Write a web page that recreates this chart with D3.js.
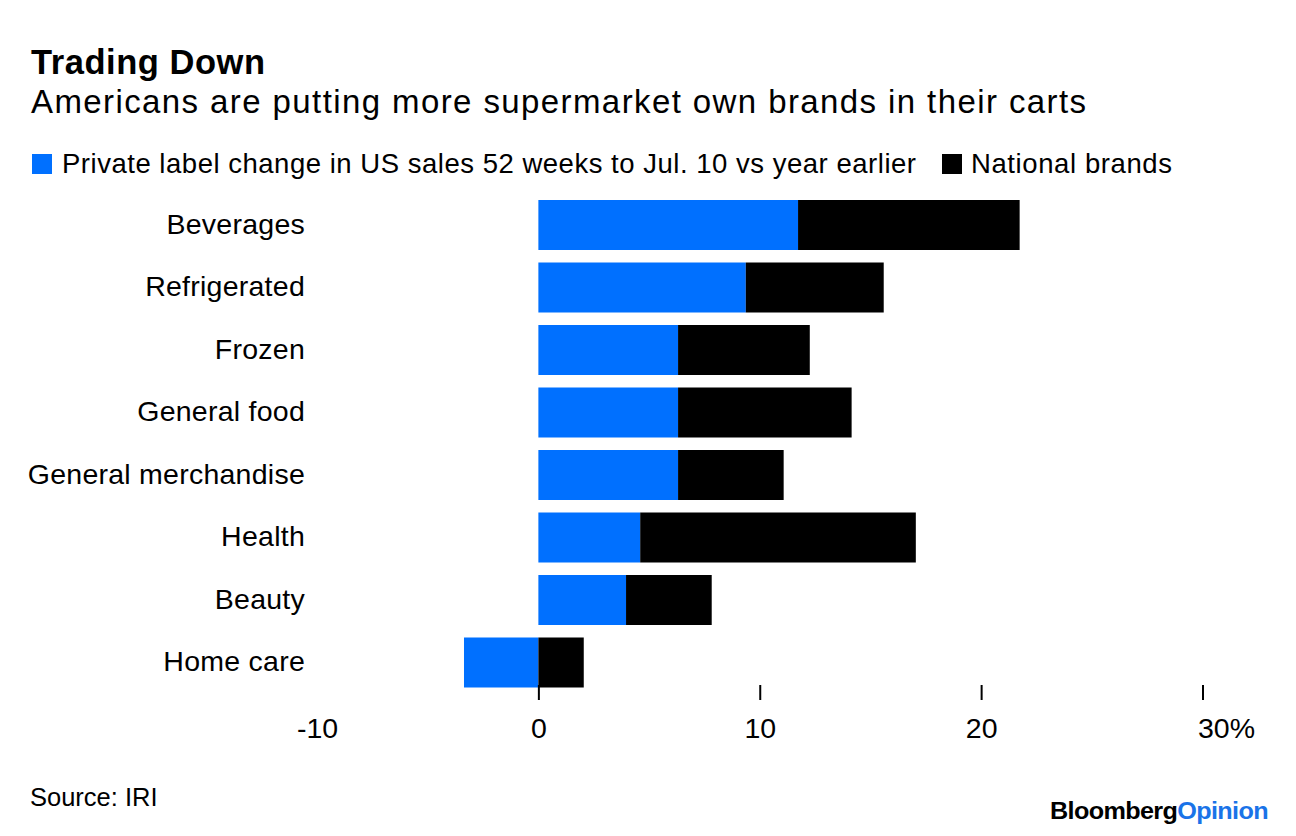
<!DOCTYPE html>
<html>
<head>
<meta charset="utf-8">
<script src="https://cdn.jsdelivr.net/npm/d3@7"></script>
<style>
  html, body { margin: 0; padding: 0; background: #fff; }
  svg { display: block; font-family: "Liberation Sans", Arial, sans-serif; }
</style>
</head>
<body>
<svg id="chart" width="1296" height="836"></svg>
<script>
const categories = ["Beverages", "Refrigerated", "Frozen", "General food", "General merchandise", "Health", "Beauty", "Home care"];
const privateLabel = [11.73, 9.37, 6.31, 6.31, 6.31, 4.60, 3.96, -3.36];
const nationalBrands = [10.01, 6.23, 5.95, 7.84, 4.77, 12.45, 3.87, 2.05];
const tickValues = [-10, 0, 10, 20, 30];
const tickLabels = ["-10", "0", "10", "20", "30%"];
const seriesNames = ["Private label change in US sales 52 weeks to Jul. 10 vs year earlier", "National brands"];
const colors = ["#0070ff", "#000000"];

const svg = d3.select("#chart");

const x = d3.scaleLinear().domain([-10, 30]).range([317, 1202.5]);
const y = d3.scaleBand().domain(categories).range([200, 687.5]).paddingInner(0.2).paddingOuter(0);

// Title, subtitle
svg.append("text").attr("x", 31).attr("y", 74).attr("font-size", 34.5).attr("font-weight", "bold")
  .attr("textLength", 234).attr("lengthAdjust", "spacing")
  .attr("fill", "#000").text("Trading Down");
svg.append("text").attr("x", 31).attr("y", 113).attr("font-size", 33)
  .attr("textLength", 1055).attr("lengthAdjust", "spacing")
  .attr("fill", "#000").text("Americans are putting more supermarket own brands in their carts");

// Legend
const lg = svg.append("g");
lg.append("rect").attr("x", 32).attr("y", 154).attr("width", 20).attr("height", 20).attr("fill", colors[0]);
lg.append("text").attr("x", 62).attr("y", 173).attr("font-size", 27.5)
  .attr("textLength", 854).attr("lengthAdjust", "spacing")
  .attr("fill", "#000").text(seriesNames[0]);
lg.append("rect").attr("x", 942).attr("y", 154).attr("width", 20).attr("height", 20).attr("fill", colors[1]);
lg.append("text").attr("x", 971).attr("y", 173).attr("font-size", 27.5)
  .attr("textLength", 201).attr("lengthAdjust", "spacing")
  .attr("fill", "#000").text(seriesNames[1]);

// Bars
const rows = categories.map((c, i) => ({ cat: c, p: privateLabel[i], n: nationalBrands[i] }));
const g = svg.append("g");
rows.forEach(d => {
  const p0 = Math.min(0, d.p), p1 = Math.max(0, d.p);
  g.append("rect").attr("x", x(p0)).attr("y", y(d.cat)).attr("width", x(p1) - x(p0))
    .attr("height", y.bandwidth()).attr("fill", colors[0]);
  const nStart = Math.max(0, d.p);
  g.append("rect").attr("x", x(nStart)).attr("y", y(d.cat)).attr("width", x(nStart + d.n) - x(nStart))
    .attr("height", y.bandwidth()).attr("fill", colors[1]);
});

// Category labels
svg.append("g").selectAll("text").data(categories).join("text")
  .attr("x", 305).attr("y", d => y(d) + y.bandwidth() / 2 + 8.5)
  .attr("text-anchor", "end").attr("font-size", 28.5).attr("letter-spacing", 0.25)
  .attr("fill", "#000").text(d => d);

// X axis
const axis = d3.axisBottom(x).tickValues(tickValues).tickSize(0).tickFormat((d, i) => tickLabels[i]);
const ax = svg.append("g").attr("transform", "translate(0,685)").call(axis);
ax.select(".domain").remove();
ax.selectAll(".tick text").attr("font-size", 28.5).attr("font-family", "Liberation Sans, Arial, sans-serif")
  .attr("fill", "#000").attr("y", 53).attr("dy", 0)
  .attr("text-anchor", (d, i) => i === tickValues.length - 1 ? "start" : "middle")
  .attr("dx", (d, i) => i === tickValues.length - 1 ? -5 : 0);
ax.selectAll(".tick").filter(d => d !== -10).append("line")
  .attr("y1", 0).attr("y2", 15).attr("stroke", "#000").attr("stroke-width", 2);

// Source and logo
svg.append("text").attr("x", 30).attr("y", 806).attr("font-size", 25.5).attr("fill", "#000").text("Source: IRI");
const logo = svg.append("text").attr("x", 1050).attr("y", 819)
  .attr("font-size", 24).attr("font-weight", "bold").attr("letter-spacing", -0.6)
  .attr("textLength", 218).attr("lengthAdjust", "spacingAndGlyphs");
logo.append("tspan").attr("fill", "#000").text("Bloomberg");
logo.append("tspan").attr("fill", "#1a73e8").text("Opinion");
</script>
</body>
</html>
